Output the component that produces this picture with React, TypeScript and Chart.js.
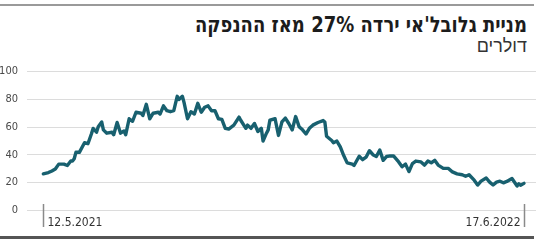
import React, { useEffect, useRef } from "react";
import { Chart, registerables } from "chart.js";

Chart.register(...registerables);

const days = [0,3,5,7,9,12,14,16,17,18,19,21,24,26,28,29,31,32,34,35,37,40,41,43,45,47,48,50,52,54,57,58,60,62,64,67,68,70,72,74,76,78,79,81,82,84,86,88,90,92,94,96,98,100,102,104,106,108,111,114,115,118,119,121,123,125,127,128,130,131,132,135,137,139,141,143,145,147,149,151,153,155,157,160,163,164,165,168,169,171,173,175,177,180,181,184,186,188,190,192,194,196,198,200,202,204,207,209,211,213,215,217,220,222,224,226,228,230,233,236,238,241,244,246,248,251,253,255,258,260,262,264,266,268,270,273,276,277,278,280];
const prices = [26.3,27.2,28.4,29.8,33.3,33.3,32.3,35.5,35.5,37.2,41.8,41.8,48.7,48,55,59,56.3,60.3,63.7,58,55.6,56.3,54.5,63.3,55.6,57.2,54.5,66,64.2,70.7,70,68.3,76.4,66,70,70.7,69.4,75.3,71.8,71.1,71.8,82.2,79.9,82.2,77.6,66,71.1,69.4,77.1,70.7,74.3,75.3,71.8,71.8,66,65.6,59.1,58.6,61.4,67.2,64.9,59.1,61.4,59.1,62.6,56.8,59.1,49.9,55.6,58,65,66,54,63.7,66.5,62.6,58,67.6,60.3,58,55,59.1,61.4,63.3,64.7,63.7,53.4,50.3,48.7,49.9,45.7,39.5,34.2,33.3,32.3,39,36.5,38.3,43,40.1,38.8,43.4,36,38.8,39.2,39.2,34.9,31.4,33.3,27.9,33.7,35.5,34.9,32.6,35.5,34.2,36,32.6,30.2,30.2,27.9,26.3,25.6,24.5,25.6,21.7,18.2,21,23.3,20.3,18.2,20.3,21,19.8,20.8,22.9,17.5,19.1,18,19.4];
const dateLabels = ["12.5.2021", "17.6.2022"];
const yTicks = [0, 20, 40, 60, 80, 100];

const title = "מניית גלובל'אי ירדה 27% מאז ההנפקה";
const subtitle = "דולרים";

const AXIS_FONT = "'Liberation Sans Narrow', 'DejaVu Sans Condensed', 'Roboto', sans-serif";

export default function App() {
  const ref = useRef<HTMLCanvasElement | null>(null);
  const titleRef = useRef<HTMLSpanElement | null>(null);

  useEffect(() => {
    document.body.style.margin = "0";
    const t = titleRef.current;
    if (t) {
      const w = t.getBoundingClientRect().width;
      if (w > 0) t.style.transform = `scaleX(${332 / w})`;
    }
    const canvas = ref.current!;
    const dateTicks = {
      id: "dateTicks",
      afterDraw(chart: any) {
        const ctx = chart.ctx;
        const xs = chart.scales.x;
        const x0 = Math.round(xs.getPixelForValue(days[0])) + 0.5;
        const x1 = Math.round(xs.getPixelForValue(days[days.length - 1])) + 0.5;
        ctx.save();
        ctx.strokeStyle = "#8a8a8a";
        ctx.lineWidth = 1.5;
        ctx.beginPath();
        ctx.moveTo(x0, 148);
        ctx.lineTo(x0, 171);
        ctx.moveTo(x1, 148);
        ctx.lineTo(x1, 171);
        ctx.stroke();
        ctx.fillStyle = "#333";
        ctx.font = "12px " + AXIS_FONT;
        ctx.textBaseline = "alphabetic";
        ctx.textAlign = "left";
        ctx.fillText(dateLabels[0], x0 + 4, 170);
        ctx.textAlign = "right";
        ctx.fillText(dateLabels[1], x1 - 4, 170);
        ctx.restore();
      },
    };
    const chart = new Chart(canvas, {
      type: "line",
      data: {
        datasets: [
          {
            data: days.map((d, i) => ({ x: d, y: prices[i] })),
            borderColor: "#18606f",
            borderWidth: 3.4,
            pointRadius: 0,
            tension: 0,
            borderJoinStyle: "round",
            borderCapStyle: "round",
          },
        ],
      },
      options: {
        animation: false,
        responsive: false,
        maintainAspectRatio: false,
        layout: { padding: { top: 10, right: 9, bottom: 25.7, left: 0 } },
        plugins: { legend: { display: false }, tooltip: { enabled: false } },
        scales: {
          x: {
            type: "linear",
            min: -9.5,
            max: 287,
            display: false,
          },
          y: {
            min: 0,
            max: 100,
            afterFit(scale: any) {
              scale.width = 27;
            },
            afterBuildTicks(scale: any) {
              scale.ticks = yTicks.map((v) => ({ value: v }));
            },
            border: { display: false },
            grid: { color: "#dcdcdc", lineWidth: 1, drawTicks: false },
            ticks: {
              padding: 9,
              color: "#4a4a4a",
              font: { size: 11, family: AXIS_FONT },
            },
          },
        },
      },
      plugins: [dateTicks],
    });
    return () => chart.destroy();
  }, []);

  return (
    <div style={{ position: "relative", width: 550, height: 241, overflow: "hidden", background: "#fff" }}>
      <div style={{ position: "absolute", left: 0, top: 4, width: 534, height: 2, background: "#9a9a9a" }} />
      <div
        dir="rtl"
        style={{
          position: "absolute",
          right: 23,
          top: 12,
          whiteSpace: "nowrap",
        }}
      >
        <span
          ref={titleRef}
          style={{
            display: "inline-block",
            transformOrigin: "right center",
            fontFamily: "'DejaVu Sans', 'Liberation Sans', sans-serif",
            fontWeight: 700,
            fontSize: 22,
            lineHeight: "26px",
            color: "#1c1c1c",
          }}
        >
          {title}
        </span>
      </div>
      <div
        dir="rtl"
        style={{
          position: "absolute",
          right: 23,
          top: 36,
          fontFamily: "'Liberation Sans Narrow', 'Liberation Sans', sans-serif",
          fontSize: 18,
          color: "#333",
          whiteSpace: "nowrap",
          lineHeight: "20px",
        }}
      >
        {subtitle}
      </div>
      <canvas ref={ref} width={545} height={180} style={{ position: "absolute", left: 0, top: 56, width: 545, height: 180 }} />
      <div style={{ position: "absolute", left: 0, top: 236, width: 534, height: 3, background: "#555" }} />
    </div>
  );
}
